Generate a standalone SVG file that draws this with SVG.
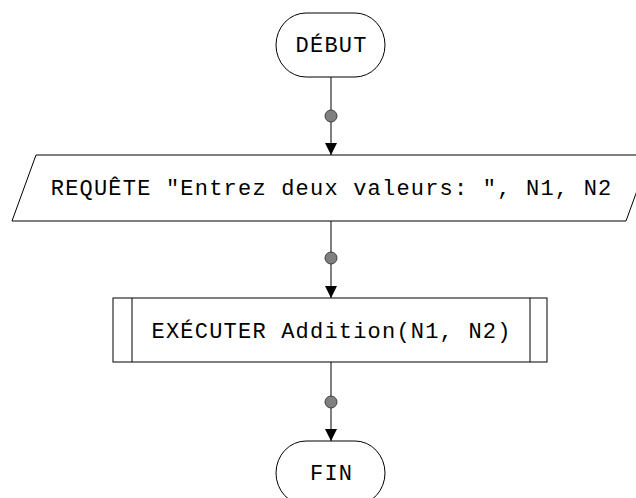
<svg xmlns="http://www.w3.org/2000/svg" width="636" height="498" viewBox="0 0 636 498">
<style>
.shape{fill:#fff;stroke:#000;stroke-width:1}
.lbl{font-family:"Liberation Mono","DejaVu Sans Mono",monospace;font-size:22px;letter-spacing:1.2px;fill:#000;text-anchor:middle}
.conn{stroke:#000;stroke-width:1;fill:none;marker-end:url(#arr)}
.dot{fill:#808080;stroke:#404040;stroke-width:1}
</style>
<defs>
<marker id="arr" markerUnits="userSpaceOnUse" markerWidth="14" markerHeight="14" refX="12" refY="6" orient="auto">
<path d="M0,0 L12,6 L0,12 Z" fill="#000"/>
</marker>
</defs>
<rect width="636" height="498" fill="#fff"/>
<g id="connectors">
<line class="conn" x1="331" y1="77" x2="331" y2="155"/>
<circle class="dot" cx="331" cy="116" r="6"/>
<line class="conn" x1="331" y1="221" x2="331" y2="298"/>
<circle class="dot" cx="331" cy="258" r="6"/>
<line class="conn" x1="331" y1="362" x2="331" y2="441"/>
<circle class="dot" cx="331" cy="402" r="6"/>
</g>
<g id="debut">
<rect class="shape" x="276" y="13" width="109" height="64" rx="30" ry="32"/>
<text class="lbl" x="331.6" y="52">DÉBUT</text>
</g>
<g id="requete">
<polygon class="shape" points="36,155 650,155 626,221 12,221"/>
<text class="lbl" x="331.6" y="195">REQUÊTE "Entrez deux valeurs: ", N1, N2</text>
</g>
<g id="executer">
<rect class="shape" x="113" y="298" width="434" height="64"/>
<line class="shape" x1="132" y1="298" x2="132" y2="362"/>
<line class="shape" x1="530" y1="298" x2="530" y2="362"/>
<text class="lbl" x="331.6" y="338">EXÉCUTER Addition(N1, N2)</text>
</g>
<g id="fin">
<rect class="shape" x="276" y="441" width="109" height="64" rx="30" ry="32"/>
<text class="lbl" x="331.6" y="480">FIN</text>
</g>
</svg>
